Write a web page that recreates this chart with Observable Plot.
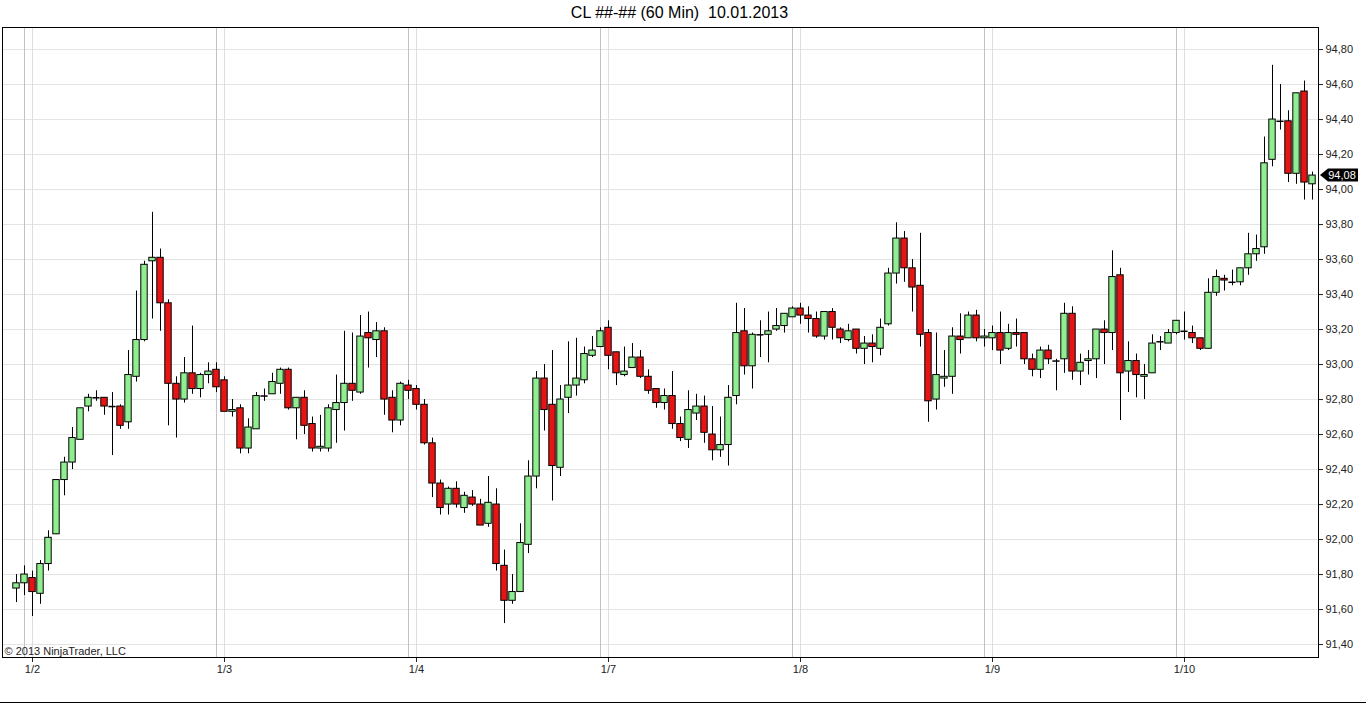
<!DOCTYPE html>
<html>
<head>
<meta charset="utf-8">
<script src="https://cdn.jsdelivr.net/npm/d3@7"></script>
<script src="https://cdn.jsdelivr.net/npm/@observablehq/plot@0.6"></script>
<style>
  body { margin: 0; background: #fff; font-family: "Liberation Sans", Arial, sans-serif; }
  #title { height: 27px; line-height: 26px; text-align: center; font-size: 16px; color: #000; white-space: pre; padding-right: 7px; }
  #chart { height: 675px; border-bottom: 1px solid #000; }
  #chart svg { display: block; }
</style>
</head>
<body>
<div id="title">CL ##-## (60 Min)  10.01.2013</div>
<div id="chart"></div>
<script>
// hourly bars, CL, 2 - 10 Jan 2013 (24 bars per session)
const open = [
  91.72,91.75,91.78,91.69,91.86,92.03,92.34,92.44,92.57,92.76,
  92.81,92.81,92.76,92.76,92.67,92.93,93.14,93.59,93.61,93.35,
  92.89,92.80,92.95,92.86,92.94,92.97,92.91,92.73,92.75,92.52,
  92.63,92.82,92.83,92.89,92.97,92.75,92.81,92.66,92.52,92.52,
  92.74,92.78,92.89,92.84,93.18,93.14,93.19,92.81,92.68,92.88,
  92.86,92.77,92.55,92.32,92.20,92.29,92.18,92.24,92.20,92.09,
  92.20,91.85,91.65,91.70,91.97,92.36,92.92,92.77,92.41,92.81,
  92.88,92.91,93.05,93.10,93.21,93.07,92.94,92.98,93.04,92.93,
  92.86,92.78,92.82,92.66,92.57,92.72,92.76,92.60,92.51,92.54,
  92.82,93.19,92.99,93.17,93.17,93.20,93.22,93.27,93.32,93.28,
  93.26,93.16,93.30,93.20,93.14,93.20,93.09,93.12,93.09,93.23,
  93.52,93.72,93.55,93.45,93.18,92.80,92.92,92.93,93.16,93.15,
  93.28,93.15,93.15,93.18,93.09,93.18,93.18,93.03,92.97,93.08,
  93.02,93.03,93.29,92.96,93.02,93.03,93.20,93.18,93.51,92.96,
  93.02,92.93,92.95,93.13,93.12,93.18,93.19,93.18,93.15,93.09,
  93.41,93.49,93.47,93.47,93.55,93.63,93.67,94.17,94.39,94.39,
  94.09,94.56,94.03
];
const high = [
  91.80,91.85,91.82,91.88,92.05,92.34,92.47,92.64,92.75,92.83,
  92.85,92.81,92.84,92.77,93.08,93.42,93.59,93.87,93.66,93.37,
  92.93,93.04,93.22,92.95,93.01,93.01,92.93,92.80,92.77,92.69,
  92.84,92.86,92.95,92.98,92.98,92.81,92.85,92.70,92.71,92.77,
  92.94,93.19,93.18,93.28,93.30,93.24,93.21,92.85,92.90,92.91,
  92.88,92.80,92.58,92.34,92.30,92.33,92.27,92.28,92.23,92.36,
  92.29,91.94,91.80,92.09,92.45,92.96,93.00,93.08,92.88,93.13,
  93.15,93.10,93.16,93.21,93.25,93.07,93.10,93.12,93.08,92.97,
  92.86,92.86,92.96,92.70,92.85,92.83,92.82,92.76,92.70,92.88,
  93.35,93.32,93.18,93.25,93.30,93.32,93.29,93.33,93.35,93.33,
  93.30,93.30,93.32,93.21,93.23,93.20,93.16,93.17,93.26,93.55,
  93.81,93.76,93.60,93.75,93.20,93.18,93.08,93.21,93.29,93.30,
  93.31,93.20,93.22,93.30,93.23,93.26,93.18,93.06,93.10,93.11,
  93.03,93.35,93.33,93.06,93.08,93.20,93.25,93.65,93.55,93.13,
  93.06,93.00,93.17,93.16,93.20,93.25,93.30,93.22,93.15,93.49,
  93.54,93.51,93.54,93.55,93.75,93.74,94.30,94.71,94.60,94.45,
  94.55,94.62,94.10
];
const low = [
  91.64,91.68,91.56,91.63,91.82,92.03,92.25,92.40,92.57,92.73,
  92.79,92.71,92.48,92.63,92.63,92.90,93.13,93.26,93.19,92.65,
  92.58,92.78,92.83,92.81,92.89,92.84,92.73,92.70,92.49,92.49,
  92.63,92.79,92.83,92.83,92.74,92.57,92.60,92.50,92.50,92.50,
  92.55,92.62,92.79,92.83,92.98,93.04,92.71,92.61,92.65,92.80,
  92.74,92.54,92.24,92.14,92.14,92.18,92.15,92.19,92.08,92.07,
  91.82,91.52,91.63,91.70,91.92,92.29,92.62,92.22,92.36,92.72,
  92.82,92.89,93.04,93.10,92.97,92.88,92.93,92.98,92.92,92.83,
  92.75,92.74,92.63,92.56,92.52,92.68,92.55,92.45,92.47,92.42,
  92.77,92.94,92.86,93.04,93.01,93.19,93.18,93.27,93.23,93.18,
  93.15,93.14,93.14,93.12,93.13,93.06,93.00,93.01,93.05,93.22,
  93.46,93.47,93.30,93.10,92.67,92.74,92.87,92.83,93.06,93.15,
  93.13,93.10,93.08,93.00,93.08,93.10,93.00,92.93,92.92,93.00,
  92.85,92.95,92.91,92.88,92.94,92.92,93.00,93.08,92.68,92.84,
  92.81,92.80,92.95,93.08,93.12,93.17,93.14,93.12,93.08,93.09,
  93.39,93.42,93.45,93.45,93.51,93.59,93.63,94.13,94.34,94.04,
  94.03,93.94,93.94
];
const close = [
  91.75,91.80,91.70,91.86,92.01,92.34,92.44,92.58,92.75,92.81,
  92.81,92.76,92.76,92.65,92.94,93.14,93.57,93.61,93.35,92.89,
  92.80,92.95,92.86,92.94,92.96,92.87,92.73,92.74,92.52,92.64,
  92.82,92.82,92.90,92.97,92.75,92.81,92.65,92.52,92.53,92.75,
  92.78,92.89,92.85,93.16,93.15,93.19,92.80,92.68,92.89,92.85,
  92.77,92.55,92.32,92.18,92.29,92.20,92.25,92.20,92.08,92.21,
  91.86,91.65,91.70,91.98,92.36,92.92,92.74,92.42,92.80,92.88,
  92.92,93.06,93.08,93.19,93.05,92.95,92.96,93.04,92.93,92.85,
  92.78,92.82,92.66,92.58,92.74,92.76,92.61,92.51,92.54,92.81,
  93.18,92.99,93.17,93.17,93.19,93.22,93.29,93.32,93.28,93.26,
  93.16,93.30,93.21,93.15,93.19,93.09,93.12,93.10,93.21,93.52,
  93.72,93.55,93.44,93.17,92.79,92.94,92.93,93.16,93.14,93.28,
  93.15,93.16,93.18,93.08,93.18,93.17,93.03,92.97,93.08,93.03,
  93.02,93.29,92.96,93.01,93.03,93.20,93.18,93.50,92.95,93.02,
  92.94,92.94,93.12,93.13,93.18,93.25,93.19,93.15,93.09,93.41,
  93.50,93.48,93.47,93.55,93.63,93.66,94.15,94.40,94.39,94.09,
  94.55,94.04,94.08
];

const dayStarts = [2, 26, 50, 74, 98, 122, 146];
const dayLabels = ["1/2", "1/3", "1/4", "1/7", "1/8", "1/9", "1/10"];
const priceTicks = [91.4, 91.6, 91.8, 92.0, 92.2, 92.4, 92.6, 92.8, 93.0, 93.2, 93.4, 93.6, 93.8, 94.0, 94.2, 94.4, 94.6, 94.8];

const upColor = "#90ee90";
const downColor = "#e81414";

const bars = open.map((o, i) => ({i, open: o, high: high[i], low: low[i], close: close[i]}));
const fmt = v => d3.format(".2f")(v).replace(".", ",");

const chart = Plot.plot({
  width: 1366,
  height: 675,
  marginLeft: 2,
  marginRight: 48,
  marginTop: 0,
  marginBottom: 45,
  style: {background: "#fff", fontFamily: "Liberation Sans, Arial, sans-serif", fontSize: "11px", color: "#222"},
  x: {
    domain: [-1.75, 162.75],
    ticks: dayStarts,
    tickFormat: d => dayLabels[dayStarts.indexOf(d)],
    tickSize: 5,
    tickPadding: 3,
    label: null
  },
  y: {
    domain: [91.326, 94.926],
    axis: "right",
    ticks: priceTicks,
    tickFormat: fmt,
    tickSize: 4,
    tickPadding: 3,
    label: null
  },
  marks: [
    Plot.ruleY(priceTicks, {stroke: "#e3e3e3"}),
    Plot.ruleX(dayStarts.map(d => d - 1), {stroke: "#c2c2c2"}),
    Plot.ruleX(dayStarts, {stroke: "#dedede"}),
    Plot.ruleX(bars, {x: "i", y1: "low", y2: "high", stroke: "#000"}),
    Plot.rect(bars.filter(d => d.close > d.open),
      {x1: d => d.i - 0.4, x2: d => d.i + 0.4, y1: "open", y2: "close", fill: upColor, stroke: "#000"}),
    Plot.rect(bars.filter(d => d.close < d.open),
      {x1: d => d.i - 0.4, x2: d => d.i + 0.4, y1: "open", y2: "close", fill: downColor, stroke: "#000"}),
    Plot.ruleY(bars.filter(d => d.close === d.open),
      {y: "close", x1: d => d.i - 0.45, x2: d => d.i + 0.45, stroke: "#000", strokeWidth: 1.5}),
    Plot.text(["© 2013 NinjaTrader, LLC"], {frameAnchor: "bottom-left", dx: 2, dy: -3, textAnchor: "start", fill: "#222"}),
    Plot.frame({stroke: "#000"})
  ]
});

// last price tag on the right axis
const last = close[close.length - 1];
const ys = chart.scale("y");
const yPix = ys.apply ? ys.apply(last) : d3.scaleLinear(ys.domain, ys.range)(last);
const xr = 1366 - 48;
const tag = d3.select(chart).append("g");
tag.append("path")
  .attr("d", `M${xr + 2},${yPix} l8,-6.5 h30 v13 h-30 z`)
  .attr("fill", "#000");
tag.append("text")
  .attr("x", xr + 24)
  .attr("y", yPix)
  .attr("dy", "0.35em")
  .attr("text-anchor", "middle")
  .attr("fill", "#fff")
  .attr("font-size", 11)
  .text(fmt(last));

d3.select("#chart").append(() => chart);
</script>
</body>
</html>
